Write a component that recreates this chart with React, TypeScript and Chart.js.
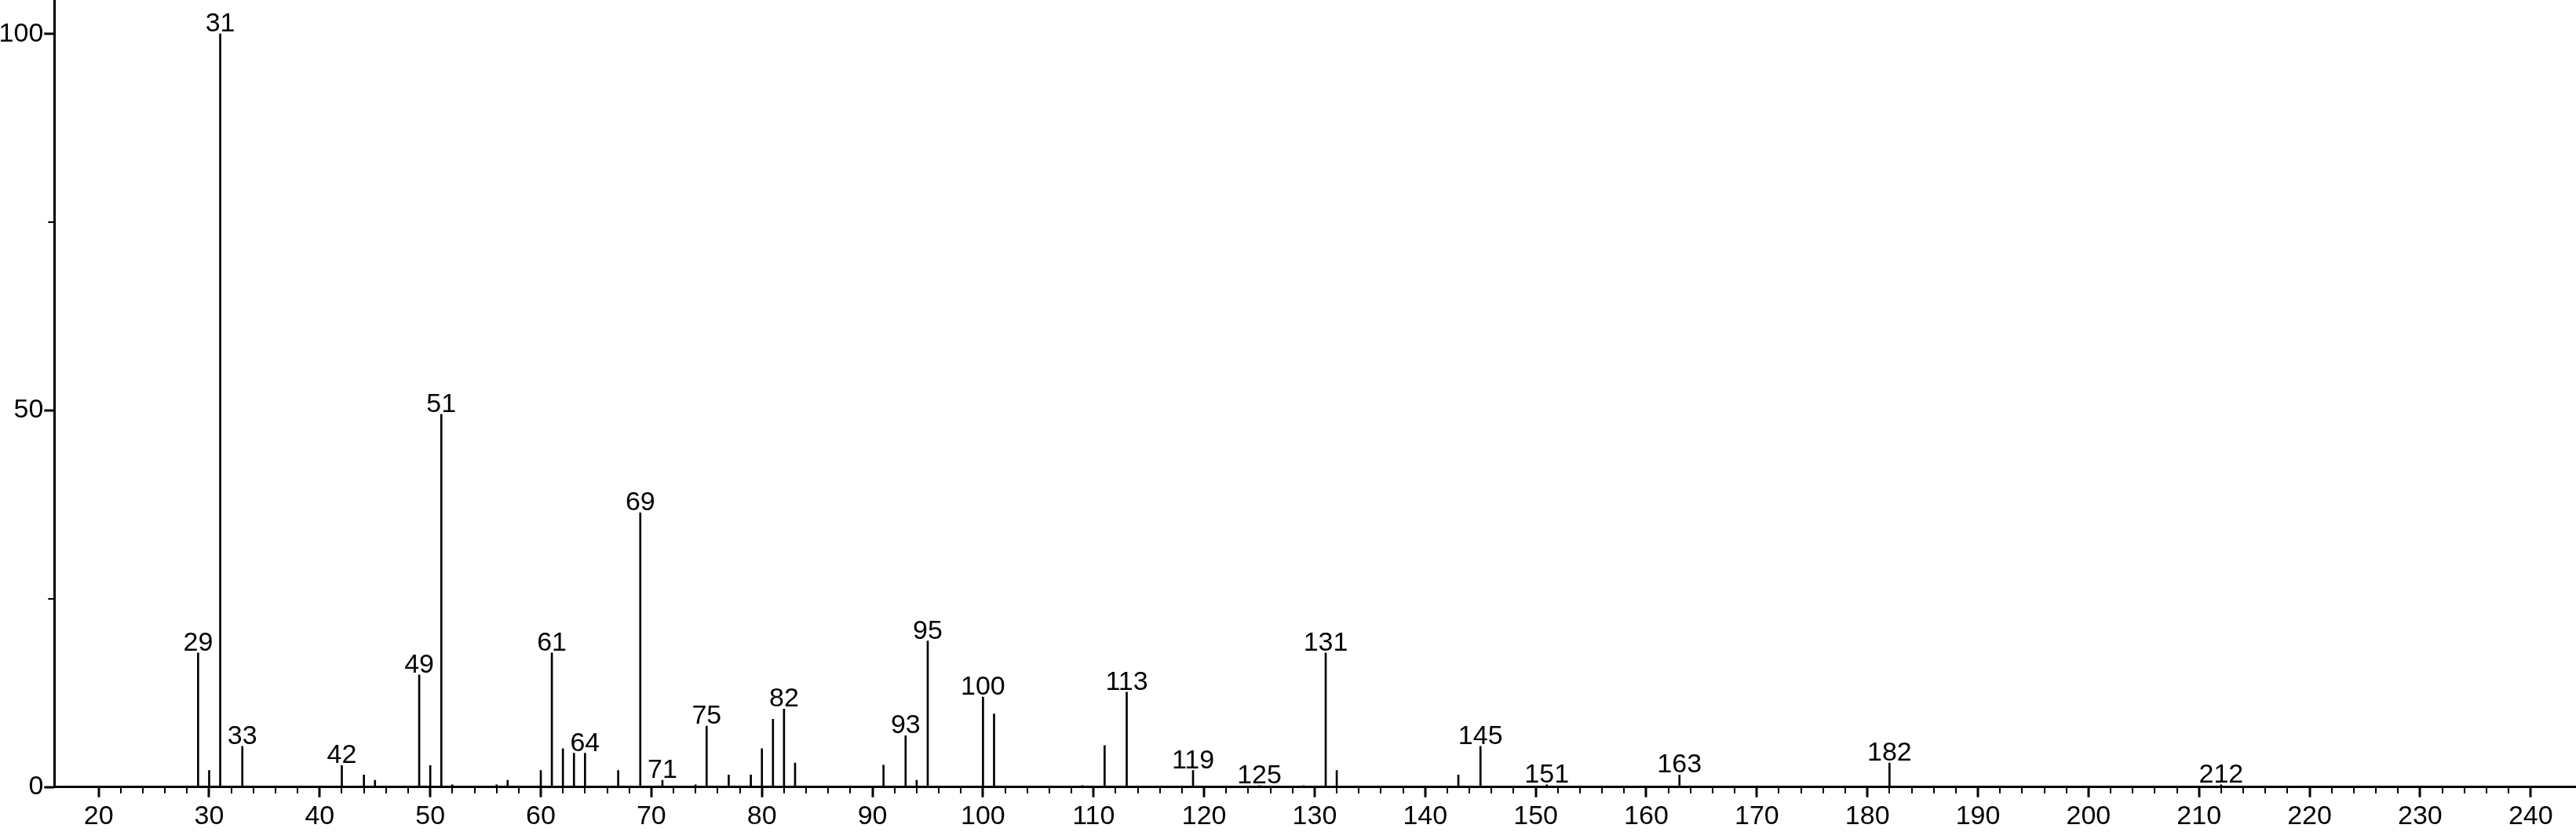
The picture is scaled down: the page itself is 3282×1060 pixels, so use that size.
import { useEffect, useRef } from "react";
import { Chart, registerables } from "chart.js";

Chart.register(...registerables);

// m/z values of the peaks
const mzValues = [
  29, 30, 31, 33, 42, 44, 45, 49, 50, 51, 52, 56, 57, 60, 61, 62, 63, 64, 67, 69,
  71, 74, 75, 77, 79, 80, 81, 82, 83, 91, 93, 94, 95, 100, 101, 109, 111, 113,
  119, 125, 129, 131, 132, 143, 145, 151, 163, 182, 212,
];

// relative intensities (%)
const intensities = [
  17.8, 2.2, 100, 5.4, 2.85, 1.6, 0.9, 14.9, 2.85, 49.5, 0.3, 0.3, 0.9, 2.2, 17.8,
  5.1, 4.5, 4.5, 2.2, 36.4, 0.9, 0.3, 8.1, 1.6, 1.6, 5.1, 9.0, 10.35, 3.2, 2.9,
  6.8, 0.9, 19.4, 11.95, 9.7, 0.2, 5.5, 12.6, 2.2, 0.2, 0.2, 17.8, 2.2, 1.6, 5.4,
  0.3, 1.6, 3.2, 0.3,
];

// peaks that carry an m/z label
const labeledMz = [
  29, 31, 33, 42, 49, 51, 61, 64, 69, 71, 75, 82, 93, 95, 100, 113, 119, 125, 131,
  145, 151, 163, 182, 212,
];

const xTickValues = [20, 30, 40, 50, 60, 70, 80, 90, 100, 110, 120, 130, 140, 150, 160, 170, 180, 190, 200, 210, 220, 230, 240];
const xMinorStep = 2;
const yTickValues = [0, 50, 100];
const yMinorTickValues = [25, 75];

const FONT = "'Liberation Sans', Arial, sans-serif";

export default function App() {
  const ref = useRef<HTMLCanvasElement>(null);

  useEffect(() => {
    document.body.style.margin = "0";
    const canvas = ref.current;
    if (!canvas) return;

    const peakLabels = {
      id: "peakLabels",
      afterDatasetsDraw(chart: any) {
        const ctx = chart.ctx;
        const meta = chart.getDatasetMeta(0);
        ctx.save();
        ctx.font = `34px ${FONT}`;
        ctx.fillStyle = "#000";
        ctx.textAlign = "center";
        ctx.textBaseline = "alphabetic";
        meta.data.forEach((el: any, i: number) => {
          const m = mzValues[i];
          if (!labeledMz.includes(m)) return;
          ctx.fillText(String(m), el.x, el.y - 3);
        });
        ctx.restore();
      },
    };

    const axisTicks = {
      id: "axisTicks",
      afterDraw(chart: any) {
        const { ctx, chartArea } = chart;
        const x = chart.scales.x;
        const y = chart.scales.y;
        ctx.save();
        ctx.strokeStyle = "#000";
        const first = xTickValues[0];
        const last = xTickValues[xTickValues.length - 1];
        for (let v = first; v <= last; v += xMinorStep) {
          const major = xTickValues.includes(v);
          const px = Math.round(x.getPixelForValue(v));
          ctx.lineWidth = major ? 3 : 2;
          ctx.beginPath();
          ctx.moveTo(px, chartArea.bottom);
          ctx.lineTo(px, chartArea.bottom + (major ? 13 : 8));
          ctx.stroke();
        }
        yTickValues.forEach((v) => {
          const py = Math.round(y.getPixelForValue(v));
          ctx.lineWidth = 3;
          ctx.beginPath();
          ctx.moveTo(chartArea.left, py);
          ctx.lineTo(chartArea.left - 13, py);
          ctx.stroke();
        });
        yMinorTickValues.forEach((v) => {
          const py = Math.round(y.getPixelForValue(v));
          ctx.lineWidth = 2;
          ctx.beginPath();
          ctx.moveTo(chartArea.left, py);
          ctx.lineTo(chartArea.left - 8, py);
          ctx.stroke();
        });
        ctx.restore();
      },
    };

    const chart = new Chart(canvas, {
      type: "bar",
      data: {
        datasets: [
          {
            data: mzValues.map((m, i) => ({ x: m, y: intensities[i] })),
            backgroundColor: "#000",
            borderWidth: 0,
            barThickness: 2,
          },
        ],
      },
      options: {
        animation: false,
        responsive: false,
        layout: { padding: 0 },
        plugins: { legend: { display: false }, tooltip: { enabled: false } },
        scales: {
          x: {
            type: "linear",
            offset: false,
            min: 16,
            max: 244.1,
            grid: { display: false, drawTicks: false },
            border: { display: true, color: "#000", width: 3 },
            afterBuildTicks: (scale: any) => {
              scale.ticks = xTickValues.map((v) => ({ value: v }));
            },
            afterFit: (scale: any) => {
              scale.height = 57.3;
              scale.paddingLeft = 0;
              scale.paddingRight = 0;
            },
            ticks: {
              color: "#000",
              font: { family: FONT, size: 34 },
              padding: 18,
              maxRotation: 0,
              autoSkip: false,
              callback: (v: any) => String(v),
            },
          },
          y: {
            type: "linear",
            min: 0,
            max: 104.5,
            grid: { display: false, drawTicks: false },
            border: { display: true, color: "#000", width: 3 },
            afterBuildTicks: (scale: any) => {
              scale.ticks = yTickValues.map((v) => ({ value: v }));
            },
            afterFit: (scale: any) => {
              scale.width = 69.3;
              scale.paddingTop = 0;
              scale.paddingBottom = 0;
            },
            ticks: {
              color: "#000",
              font: { family: FONT, size: 34 },
              padding: 14,
              autoSkip: false,
              callback: (v: any) => String(v),
            },
          },
        },
      },
      plugins: [peakLabels, axisTicks],
    });

    return () => chart.destroy();
  }, []);

  return (
    <canvas
      ref={ref}
      width={3282}
      height={1060}
      style={{ position: "absolute", left: 0, top: 0, width: 3282, height: 1060 }}
    />
  );
}
